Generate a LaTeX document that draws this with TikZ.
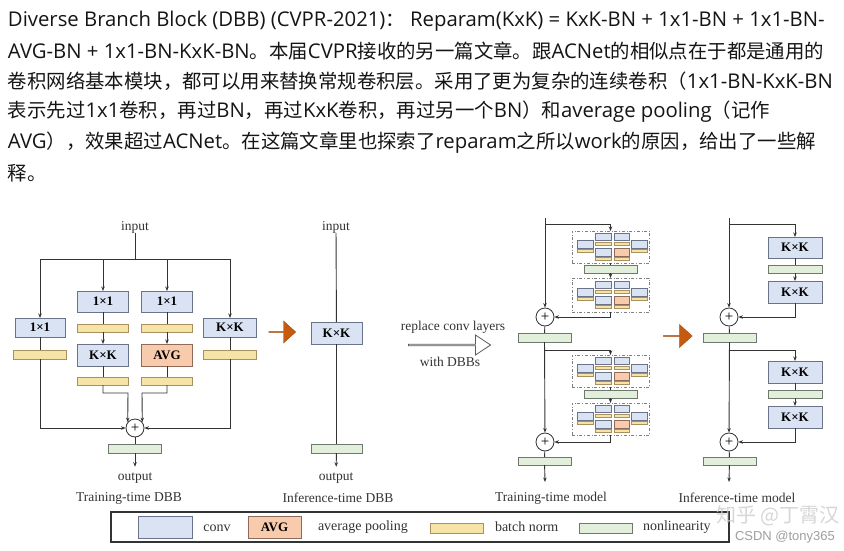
\documentclass[tikz,border=0pt]{standalone}
\usepackage{fontspec}
\setmainfont{Liberation Serif}
\newfontfamily\zhs{Noto Sans CJK SC}
\newfontfamily\latsans{Open Sans}
\newfontfamily\arialf{Liberation Sans}
\usetikzlibrary{arrows.meta,shapes.arrows}
\definecolor{convf}{HTML}{DAE3F3}
\definecolor{convd}{HTML}{6B7388}
\definecolor{avgf}{HTML}{F8CBAD}
\definecolor{avgd}{HTML}{8F6A5A}
\definecolor{bnf}{HTML}{F5E4A6}
\definecolor{bnd}{HTML}{A89060}
\definecolor{nlf}{HTML}{E2EFDA}
\definecolor{nld}{HTML}{6F786F}
\definecolor{orng}{HTML}{C55A11}
\definecolor{linec}{HTML}{333333}
\definecolor{txtc}{HTML}{151515}
\newcommand\zh[1]{{\zhs\fontsize{19.4}{20}\selectfont #1}}
\newcommand\minidbb[2]{%
\begin{scope}[shift={(#1,#2)}]
 \draw[mconv] (23,2) rectangle (39,9); \draw[mconv] (42,2) rectangle (57,9);
 \draw[mbn] (23,11) rectangle (39,14); \draw[mbn] (42,11) rectangle (57,14);
 \draw[mconv] (5,9) rectangle (21,17); \draw[mbn] (5,18) rectangle (21,21);
 \draw[mconv] (59,9) rectangle (75,17); \draw[mbn] (59,18) rectangle (75,21);
 \draw[mconv] (23,17) rectangle (39,25); \draw[mavg] (42,17) rectangle (57,25);
 \draw[mbn] (23,26) rectangle (39,29); \draw[mbn] (42,26) rectangle (57,29);
\end{scope}}
\tikzset{
 base/.style={inner sep=0pt, outer sep=0pt},
 sz/.style 2 args={minimum width=#1pt, minimum height=#2pt},
 conv/.style={base, draw=convd, fill=convf, line width=0.8pt, font=\fontsize{13}{13}\selectfont\bfseries},
 avg/.style={base, draw=avgd, fill=avgf, line width=0.8pt, font=\fontsize{13}{13}\selectfont\bfseries},
 bn/.style={base, draw=bnd, fill=bnf, line width=0.8pt},
 nl/.style={base, draw=nld, fill=nlf, line width=0.8pt},
 plus/.style={circle, draw=linec, fill=white, line width=0.8pt, minimum size=18pt, inner sep=0pt, font=\fontsize{15}{15}\selectfont},
 lbl/.style={base, text=linec, font=\fontsize{13.5}{14}\selectfont},
 conn/.style={draw=linec, line width=0.9pt},
 arr/.style={conn, -{Stealth[length=4.5pt,width=3.5pt]}},
 dbbbox/.style={base, draw=gray, dash dot, line width=0.6pt},
 mconv/.style={draw=convd, fill=convf, line width=0.5pt},
 mavg/.style={draw=avgd, fill=avgf, line width=0.5pt},
 mbn/.style={draw=bnd, fill=bnf, line width=0.5pt},
 tline/.style={base, anchor=west, text=txtc, font=\latsans\fontsize{20.3}{22}\selectfont},
 oarrow/.style={single arrow, fill=orng, draw=orng!85!black, line width=0.4pt, inner sep=0pt, single arrow head extend=5pt},
}
\begin{document}
\begin{tikzpicture}[x=1pt,y=-1pt]
\useasboundingbox[fill=white] (0,0) rectangle (844,551);

% ---------- text block ----------
\node[tline] (l1) at (8,21) {Diverse Branch Block (DBB) (CVPR-2021)\zh{：} Reparam(KxK) = KxK-BN + 1x1-BN + 1x1-BN-};
\node[tline] (l2) at (8,51) {AVG-BN + 1x1-BN-KxK-BN\zh{。本届}CVPR\zh{接收的另一篇文章。跟}ACNet\zh{的相似点在于都是通用的}};
\node[tline] (l3) at (8,81) {\zh{卷积网络基本模块，都可以用来替换常规卷积层。采用了更为复杂的连续卷积（}1x1-BN-KxK-BN};
\node[tline] (l4) at (8,112) {\zh{表示先过}1x1\zh{卷积，再过}BN\zh{，再过}KxK\zh{卷积，再过另一个}BN\zh{）和}average pooling\zh{（记作}};
\node[tline] (l5) at (8,143) {AVG\zh{），效果超过}ACNet\zh{。在这篇文章里也探索了}reparam\zh{之所以}work\zh{的原因，给出了一些解}};
\node[tline] (l6) at (8,173) {\zh{释。}};

% ---------- Training-time DBB ----------
\node[lbl] (in1) at (135,227) {input};
\coordinate (bus1) at (135,259);
\node[conv, sz={50}{19}] (c1) at (40,327.5) {1×1};
\node[bn, sz={53}{9}] (b1) at (40,354.5) {};
\node[conv, sz={51}{21}] (c2) at (103,301.5) {1×1};
\node[bn, sz={51}{8}] (b2) at (103,328) {};
\node[conv, sz={51}{22}] (c3) at (103,355) {K×K};
\node[bn, sz={51}{8}] (b3) at (103,381) {};
\node[conv, sz={51}{21}] (c4) at (167,301.5) {1×1};
\node[bn, sz={51}{8}] (b4) at (167,328) {};
\node[avg, sz={51}{22}] (a1) at (167,355) {AVG};
\node[bn, sz={51}{8}] (b5) at (167,381) {};
\node[conv, sz={53}{19}] (c5) at (230,327.5) {K×K};
\node[bn, sz={53}{9}] (b6) at (230,354.5) {};
\node[plus] (p1) at (135,428) {+};
\node[nl, sz={53}{9}] (g1) at (135,448.5) {};
\node[lbl] (out1) at (135,478) {output};
\node[lbl] (cap1) at (129,498) {Training-time DBB};
\coordinate (j1) at (103,393);
\coordinate (j2) at (128,393);
\coordinate (j3) at (167,393);
\coordinate (j4) at (142,393);
\draw[conn] (in1) -- (bus1);
\draw[arr] (bus1) -| (c1);
\draw[arr] (bus1) -| (c2);
\draw[arr] (bus1) -| (c4);
\draw[arr] (bus1) -| (c5);
\draw[conn] (c1) -- (b1);
\draw[conn] (c2) -- (b2);
\draw[arr] (b2) -- (c3);
\draw[conn] (c3) -- (b3);
\draw[conn] (c4) -- (b4);
\draw[arr] (b4) -- (a1);
\draw[conn] (a1) -- (b5);
\draw[conn] (c5) -- (b6);
\draw[arr] (b1) |- (p1);
\draw[arr] (b6) |- (p1);
\draw[arr] (b3) -- (j1) -- (j2) -- (p1.141);
\draw[arr] (b5) -- (j3) -- (j4) -- (p1.39);
\draw[conn] (p1) -- (g1);
\draw[arr, shorten >=6pt] (g1) -- (out1);

% ---------- Inference-time DBB ----------
\node[oarrow, minimum height=27pt, minimum width=22pt, single arrow tip angle=84] (oa1) at (282,332) {};
\node[lbl] (in2) at (336,227) {input};
\node[conv, sz={51}{22}] (k0) at (336.5,333) {K×K};
\node[nl, sz={51}{9}] (g2) at (336.5,448.5) {};
\node[lbl] (out2) at (336,478) {output};
\node[lbl] (cap2) at (338,498) {Inference-time DBB};
\draw[conn] (in2) -- (k0);
\draw[conn] (k0) -- (g2);
\draw[arr, shorten >=6pt] (g2) -- (out2);

% ---------- replace arrow ----------
\node[single arrow, draw=linec!80, fill=white, line width=0.8pt, inner sep=0pt, minimum height=82pt, minimum width=20pt, single arrow head extend=5pt, single arrow tip angle=67] (ha) at (449,345) {};
\node[lbl] (rep) at (453,327) {replace conv layers};
\node[lbl] (wd) at (450,362) {with DBBs};

% ---------- Training-time model ----------
\coordinate (tt) at (545,218);
\coordinate (tb1) at (545,224);
\node[dbbbox, sz={77}{32}] (d1) at (610.5,247) {};
\minidbb{572}{231}
\node[nl, sz={53}{8}] (g3) at (610.5,269) {};
\node[dbbbox, sz={77}{34}] (d2) at (610.5,295) {};
\minidbb{572}{279.5}
\node[plus] (p2) at (545,317) {+};
\node[nl, sz={53}{9}] (g4) at (544.5,337.5) {};
\coordinate (tb2) at (545,350);
\node[dbbbox, sz={77}{32}] (d3) at (610.5,371) {};
\minidbb{572}{355}
\node[nl, sz={53}{8}] (g5) at (610.5,394) {};
\node[dbbbox, sz={77}{32}] (d4) at (610.5,419) {};
\minidbb{572}{403}
\node[plus] (p3) at (545,442) {+};
\node[nl, sz={53}{8}] (g6) at (544.5,461) {};
\coordinate (te) at (545,482);
\node[lbl] (cap3) at (551,498) {Training-time model};
\draw[arr] (tt) -- (p2);
\draw[arr] (tb1) -| (d1);
\draw[conn] (d1) -- (g3);
\draw[arr] (g3) -- (d2);
\draw[arr] (d2) |- (p2);
\draw[conn] (p2) -- (g4);
\draw[arr] (g4) -- (p3);
\draw[arr] (tb2) -| (d3);
\draw[conn] (d3) -- (g5);
\draw[arr] (g5) -- (d4);
\draw[arr] (d4) |- (p3);
\draw[conn] (p3) -- (g6);
\draw[arr] (g6) -- (te);

% ---------- orange arrow 2 ----------
\node[oarrow, minimum height=29pt, minimum width=23pt, single arrow tip angle=84] (oa2) at (677.5,336) {};

% ---------- Inference-time model ----------
\coordinate (it) at (729,218);
\coordinate (ib1) at (729,224);
\node[conv, sz={54}{21}] (k1) at (795,247.5) {K×K};
\node[nl, sz={54}{8}] (g7) at (795,269) {};
\node[conv, sz={54}{22}] (k2) at (795,292) {K×K};
\node[plus] (p4) at (729,317) {+};
\node[nl, sz={53}{9}] (g8) at (729.5,337.5) {};
\coordinate (ib2) at (729,350);
\node[conv, sz={54}{22}] (k3) at (795,372) {K×K};
\node[nl, sz={54}{8}] (g9) at (795,394) {};
\node[conv, sz={54}{22}] (k4) at (795,417) {K×K};
\node[plus] (p5) at (729,442) {+};
\node[nl, sz={53}{8}] (g10) at (729.5,461) {};
\coordinate (ie) at (729,482);
\node[lbl] (cap4) at (737,498) {Inference-time model};
\draw[arr] (it) -- (p4);
\draw[arr] (ib1) -| (k1);
\draw[conn] (k1) -- (g7);
\draw[arr] (g7) -- (k2);
\draw[arr] (k2) |- (p4);
\draw[conn] (p4) -- (g8);
\draw[arr] (g8) -- (p5);
\draw[arr] (ib2) -| (k3);
\draw[conn] (k3) -- (g9);
\draw[arr] (g9) -- (k4);
\draw[arr] (k4) |- (p5);
\draw[conn] (p5) -- (g10);
\draw[arr] (g10) -- (ie);

% ---------- legend ----------
\node[base, draw=linec, line width=1.2pt, sz={618}{30}] (leg) at (420,527) {};
\node[conv, sz={54}{22}] (lc) at (165,527) {};
\node[lbl, font=\fontsize{14}{14}\selectfont] (lct) at (217,528) {conv};
\node[avg, sz={53}{22}] (la) at (274.5,527) {AVG};
\node[lbl, anchor=west, font=\fontsize{14}{14}\selectfont] (lat) at (318,527) {average pooling};
\node[bn, sz={53}{10}] (lb) at (456.5,528) {};
\node[lbl, anchor=west, font=\fontsize{14}{14}\selectfont] (lbt) at (495,527) {batch norm};
\node[nl, sz={53}{10}] (lg) at (605.5,528) {};
\node[lbl, anchor=west, font=\fontsize{14}{14}\selectfont] (lgt) at (643,527) {nonlinearity};

% ---------- watermarks ----------
\node[base, text=gray!40, opacity=0.8, font=\zhs\fontsize{20}{20}\selectfont] (wm1) at (778,516) {知乎 @丁霄汉};
\node[base, anchor=west, text=gray!75, font=\arialf\fontsize{13}{13}\selectfont] (wm2) at (735,537) {CSDN @tony365};
\end{tikzpicture}
\end{document}
